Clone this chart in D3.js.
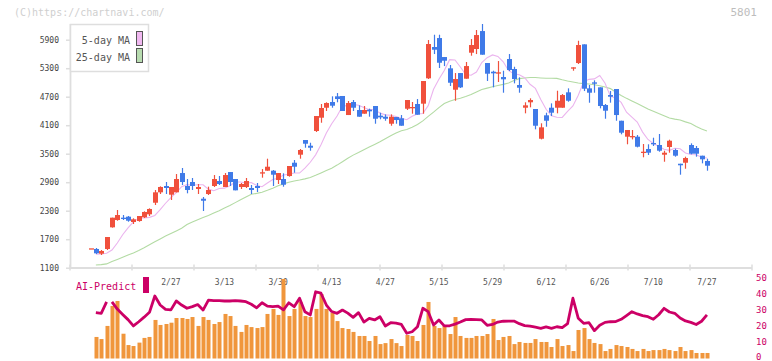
<!DOCTYPE html>
<html><head><meta charset="utf-8">
<script src="https://cdn.jsdelivr.net/npm/d3@7"></script>
<style>body{margin:0;background:#fff}svg{display:block}text{font-family:"DejaVu Sans Mono",monospace}</style>
</head><body><svg id="c" width="772" height="361"></svg>
<script>
// ---- data (index = trading day, 0..115) ----
const candleOpen=[1508,1494,1395,1494,1950,2104,2153,2174,2062,2083,2160,2224,2468,2687,2820,2637,2687,3093,2820,2904,2757,2552,2651,2820,2925,2799,3114,2967,2799,2799,2778,2820,3093,3142,3142,2946,2967,3030,3310,3479,3788,3668,3978,4258,4468,4588,4708,4715,4314,4588,4420,4342,4427,4504,4300,4279,4131,4272,4245,4447,4462,4546,4553,5087,5746,5935,5535,5297,4847,5198,5079,5626,5704,6082,5409,5226,5192,5114,5493,5283,4946,4468,4582,4441,3815,4308,4468,4468,4468,4792,5318,5409,5802,4876,5002,4897,4525,4735,4862,4194,3858,3851,3858,3521,3599,3725,3683,3479,3641,3578,3289,3310,3683,3620,3458,3346];
const candleHigh=[1508,1515,1473,1746,2153,2315,2209,2188,2140,2188,2287,2350,2736,2813,2904,2799,3072,3199,2967,2988,2862,2588,2806,3051,3030,3093,3114,2967,2883,2988,2841,2883,3177,3395,3156,3093,3087,3241,3367,3599,3788,3731,4293,4546,4582,4708,4777,4715,4609,4630,4518,4504,4448,4504,4363,4328,4328,4272,4314,4630,4588,4651,5030,5893,6005,6005,5535,5367,5198,5198,5430,5914,6104,6230,5409,5247,5451,5247,5598,5331,5108,4582,4666,4441,4140,4363,4560,4826,4756,4876,5318,5878,5802,4946,5045,4897,4546,4819,4862,4194,3999,3999,3893,3704,3698,3837,3915,3563,3795,3606,3289,3437,3718,3662,3458,3395];
const candleLow=[1508,1388,1367,1473,1943,2089,2104,2068,2020,2068,2146,2188,2420,2651,2651,2525,2687,2841,2666,2736,2651,2294,2630,2799,2841,2799,2820,2729,2757,2778,2651,2694,2995,3142,2820,2862,2805,3016,3100,3395,3626,3563,3957,4152,4399,4468,4582,4399,4314,4399,4279,4342,4279,4131,4224,4194,4089,4131,4089,4420,4342,4321,4342,5073,5598,5304,5345,4925,4615,4883,5079,5563,5598,5584,5030,4897,5009,4784,5240,4981,4784,4350,4476,4013,3801,4068,4294,4350,4468,4594,5247,5388,4819,4573,4784,4455,4236,4574,4194,3908,3698,3801,3633,3424,3472,3662,3542,3331,3521,3437,3058,3184,3486,3437,3297,3142];
const candleClose=[1508,1403,1452,1746,2153,2209,2131,2089,2119,2188,2273,2336,2687,2799,2778,2799,2967,2904,2736,2820,2799,2510,2736,2967,2862,3051,2904,2729,2862,2925,2736,2778,3109,3226,3058,3093,2847,3241,3226,3578,3710,3626,4293,4462,4567,4510,4651,4399,4567,4468,4279,4420,4392,4236,4265,4236,4279,4209,4089,4630,4483,4321,5030,5809,5689,5415,5457,4994,5072,4897,5345,5788,5998,5584,5184,5192,5213,5066,5262,5072,4889,4518,4630,4089,4055,4194,4363,4615,4735,4615,5318,5788,4868,4784,4973,4504,4405,4700,4314,3942,3999,3872,3647,3542,3521,3704,3563,3521,3773,3458,3256,3409,3500,3500,3382,3247];
const ma5=[null,1382,1390,1403,1473,1620,1793,1938,2066,2140,2147,2160,2201,2321,2457,2575,2680,2806,2849,2837,2845,2845,2754,2720,2766,2775,2825,2904,2903,2882,2894,2831,2806,2882,2955,2981,3053,3067,3093,3093,3197,3320,3476,3687,3934,4132,4292,4497,4518,4539,4519,4473,4427,4425,4359,4318,4310,4282,4245,4216,4289,4338,4346,4511,4855,5066,5253,5480,5473,5325,5167,5153,5219,5420,5522,5580,5549,5434,5248,5183,5161,5100,4961,4874,4640,4436,4297,4266,4263,4392,4504,4729,5014,5065,5075,5146,4983,4707,4673,4579,4373,4272,4165,3955,3800,3716,3657,3595,3570,3616,3604,3514,3483,3479,3425,3409];
const ma25=[null,1157,1165,1180,1230,1275,1320,1365,1410,1460,1520,1585,1645,1705,1765,1820,1875,1930,2010,2060,2110,2155,2200,2250,2300,2355,2410,2470,2530,2590,2645,2665,2690,2730,2775,2825,2865,2900,2925,2945,2970,3000,3045,3095,3145,3195,3260,3330,3405,3470,3525,3585,3640,3695,3750,3815,3880,3935,3985,4010,4055,4115,4190,4285,4375,4470,4555,4605,4640,4668,4705,4745,4800,4850,4880,4910,4935,4960,4990,5040,5080,5095,5105,5105,5095,5087,5087,5085,5055,5030,5010,4988,4975,4968,4950,4932,4905,4870,4795,4725,4665,4610,4555,4500,4440,4395,4345,4300,4250,4228,4209,4170,4135,4075,4020,3980];
const predictBars=[null,13.3,12.0,20.1,32.4,35.5,15.3,8.3,7.7,9.8,12.7,13.3,23.8,20.7,21.3,22.1,25.0,25.0,24.4,25.6,20.1,25.6,23.8,21.3,22.5,27.5,26.2,20.1,16.4,20.7,19.4,18.8,19.4,27.5,30.6,26.9,49.1,26.2,30.6,34.9,26.2,25.6,30.6,39.8,30.6,28.1,23.1,18.8,18.2,16.4,13.9,13.9,10.8,13.9,8.9,9.5,12.0,9.5,7.7,14.5,13.9,10.8,20.7,34.9,20.1,18.8,20.1,15.1,25.6,13.9,12.7,12.7,13.9,13.9,15.1,24.4,11.4,13.3,13.9,8.9,10.2,9.6,9.6,12.0,10.2,10.2,7.1,12.0,7.7,8.3,4.6,17.6,18.8,12.0,9.6,8.9,4.6,5.9,8.3,7.7,7.1,5.9,4.6,5.9,4.6,5.2,5.2,5.9,5.2,4.6,7.1,4.6,5.2,3.4,3.4,3.4];
const predictLine=[null,28.3,27.9,35,35,30.5,27.2,24,20.1,22.7,25.5,28.5,38.6,33,30.3,30,35.5,33,31,32,33.3,29.9,36,35.7,35.7,35.5,35.5,35.7,35.5,35.1,33.5,31.3,34.4,32.3,32,32.3,30,34.4,32,37.2,28.9,26.9,41.2,40.3,33,29,27.9,29.9,28,25.4,28.3,22.5,24.8,23.8,25.8,20.1,22.1,21.8,21,15.6,16.5,19.6,31,28.9,20.7,23.8,20.1,20.2,21.2,22.5,24,24.2,24,23.8,20.5,21,22.5,23,23.1,23.1,21.5,20.3,20,19.3,18.6,19.5,18.6,19.6,19,21.5,37.2,24.8,21.7,22.1,17.2,20.5,22.3,22.7,22.8,24.2,26.5,28.9,27.5,26.5,25.8,24.2,27,31,28.7,27.9,25,23.2,22.3,21,23,26.9];
const predictBreakAfter=3;
const priceTicks=[1100,1700,2300,2900,3500,4100,4700,5300,5900];
const predictTicks=[0,10,20,30,40,50];
const dateLabels=["2/27","3/13","3/30","4/13","4/27","5/15","5/29","6/12","6/26","7/10","7/27"];
const dateLabelIndex=[15,25,35,45,55,65,75,85,95,105,115];

// ---- scales ----
const svg=d3.select("#c");
const x=d3.scaleLinear().domain([-3.825,123.41]).range([70,752]);
const y=d3.scaleLinear().domain([1100,5900]).range([267.7,39.7]);
const yp=d3.scaleLinear().domain([0,50]).range([358.5,277.5]);
const grid=d3.scaleLinear().domain([0,11]).range([70,752]);
const RED="#f0503c",BLUE="#3f7ae8",AXC="#dedede",PINK="#cc0066";

// watermark
svg.append("text").attr("x",14).attr("y",16).attr("font-size",10).attr("fill","#cfcfcf").text("(C)https://chartnavi.com/");
svg.append("text").attr("x",757).attr("y",16).attr("text-anchor","end").attr("font-size",11).attr("fill","#bdbdbd").text("5801");

// y axis
const ya=svg.append("g").attr("transform","translate(70,0)")
  .call(d3.axisLeft(y).tickValues(priceTicks).tickSize(4).tickPadding(7).tickFormat(d3.format("d")));
ya.select(".domain").remove();
ya.selectAll(".tick line").attr("stroke",AXC).attr("stroke-width",1.5);
ya.selectAll(".tick text").attr("fill","#444").attr("font-size",8).attr("font-family","DejaVu Sans Mono");
svg.append("line").attr("x1",70.5).attr("x2",70.5).attr("y1",24).attr("y2",268).attr("stroke",AXC).attr("stroke-width",1.8);

// x axis
svg.append("line").attr("x1",70).attr("x2",752).attr("y1",268).attr("y2",268).attr("stroke",AXC).attr("stroke-width",1.8);
svg.append("g").selectAll("line").data(d3.range(12)).join("line")
  .attr("x1",d=>grid(d)).attr("x2",d=>grid(d)).attr("y1",264.5).attr("y2",270.5).attr("stroke",AXC).attr("stroke-width",1.5);
svg.append("g").selectAll("text").data(dateLabels).join("text")
  .attr("x",(d,i)=>x(dateLabelIndex[i])).attr("y",285).attr("text-anchor","middle")
  .attr("font-size",8).attr("fill","#555").text(d=>d);

// moving averages
const maLine=d3.line().defined(d=>d!=null).x((d,i)=>x(i)).y(d=>y(d));
svg.append("path").attr("d",maLine(ma25)).attr("fill","none").attr("stroke","#b3dba4").attr("stroke-width",1.1);
svg.append("path").attr("d",maLine(ma5)).attr("fill","none").attr("stroke","#ebb4ee").attr("stroke-width",1.1);

// candles
const idx=d3.range(candleOpen.length);
const cg=svg.append("g");
cg.selectAll("line").data(idx).join("line")
  .attr("x1",i=>Math.round(x(i))+0.5).attr("x2",i=>Math.round(x(i))+0.5)
  .attr("y1",i=>y(candleHigh[i])).attr("y2",i=>y(candleLow[i]))
  .attr("stroke",i=>candleClose[i]>=candleOpen[i]?RED:BLUE).attr("stroke-width",1.2);
cg.selectAll("rect").data(idx).join("rect")
  .attr("x",i=>Math.round(x(i))+0.5-2.5).attr("width",5)
  .attr("y",i=>Math.min(y(candleOpen[i]),y(candleClose[i])))
  .attr("height",i=>Math.max(1.3,Math.abs(y(candleOpen[i])-y(candleClose[i]))))
  .attr("fill",i=>candleClose[i]>=candleOpen[i]?RED:BLUE);

// legend
svg.append("rect").attr("x",70.5).attr("y",24.5).attr("width",78).attr("height",47).attr("fill","#fff").attr("stroke",AXC).attr("stroke-width",1.5);
svg.append("text").attr("x",130).attr("y",44).attr("text-anchor","end").attr("font-size",10).attr("fill","#555").text("5-day MA");
svg.append("text").attr("x",130).attr("y",61).attr("text-anchor","end").attr("font-size",10).attr("fill","#555").text("25-day MA");
svg.append("rect").attr("x",136.5).attr("y",31.5).attr("width",6).attr("height",14).attr("fill","#f0b8f0").attr("stroke","#555");
svg.append("rect").attr("x",136.5).attr("y",48.5).attr("width",6).attr("height",14).attr("fill","#b8dcb0").attr("stroke","#555");

// AI-Predict panel
svg.append("text").attr("x",76).attr("y",290).attr("font-size",10).attr("fill",PINK).text("AI-Predict");
svg.append("rect").attr("x",143).attr("y",277).attr("width",6).attr("height",16).attr("fill",PINK);
svg.append("g").selectAll("text").data(predictTicks).join("text")
  .attr("x",756).attr("y",d=>Math.min(yp(d)+3,359.5)).attr("font-size",9).attr("fill",PINK).text(d=>d);
const bidx=idx.filter(i=>predictBars[i]!=null);
svg.append("g").selectAll("rect").data(bidx).join("rect")
  .attr("x",i=>Math.round(x(i))-1.5).attr("width",4)
  .attr("y",i=>yp(predictBars[i])).attr("height",i=>yp(0)-yp(predictBars[i]))
  .attr("fill","#f0963c");
const pl=d3.line().x(i=>x(i)).y(i=>yp(predictLine[i]));
const seg1=bidx.filter(i=>i<=predictBreakAfter), seg2=bidx.filter(i=>i>predictBreakAfter);
[seg1,seg2].forEach(s=>svg.append("path").attr("d",pl(s)).attr("fill","none").attr("stroke",PINK).attr("stroke-width",2.8).attr("stroke-linejoin","round"));
</script></body></html>
